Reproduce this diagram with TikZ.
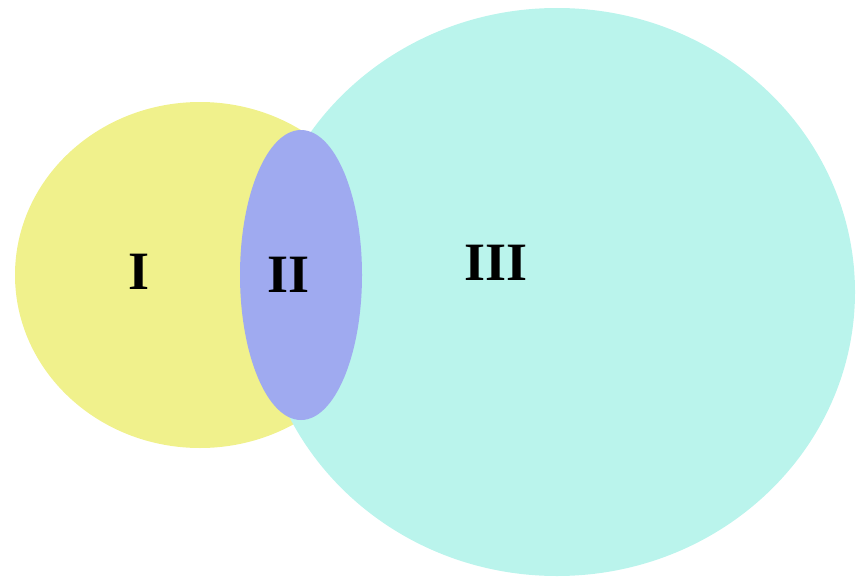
\documentclass[tikz,border=0pt]{standalone}
\usepackage{fontspec}
\setmainfont{Liberation Serif}
\usetikzlibrary{shapes.geometric}
\definecolor{setyellow}{RGB}{240,241,140}
\definecolor{setcyan}{RGB}{186,244,236}
\definecolor{setblue}{RGB}{159,170,240}
\begin{document}
\begin{tikzpicture}[x=1pt,y=-1pt, every node/.style={inner sep=0pt},
  region/.style={ellipse,draw=none},
  roman/.style={font=\fontsize{54}{54}\selectfont\bfseries,text=black}]
\useasboundingbox (0,0) rectangle (856,578);
\node[region,fill=setyellow,minimum width=370pt,minimum height=346pt] (yel) at (200,275) {};
\node[region,fill=setcyan,minimum width=596pt,minimum height=568pt] (cya) at (557,292) {};
\node[region,fill=setblue,minimum width=122pt,minimum height=290pt] (lens) at (301,275) {};
\node[roman] (one) at (139.5,272) {I};
\node[roman] (two) at (289,275) {II};
\node[roman] (three) at (496.5,263) {III};
\end{tikzpicture}
\end{document}
